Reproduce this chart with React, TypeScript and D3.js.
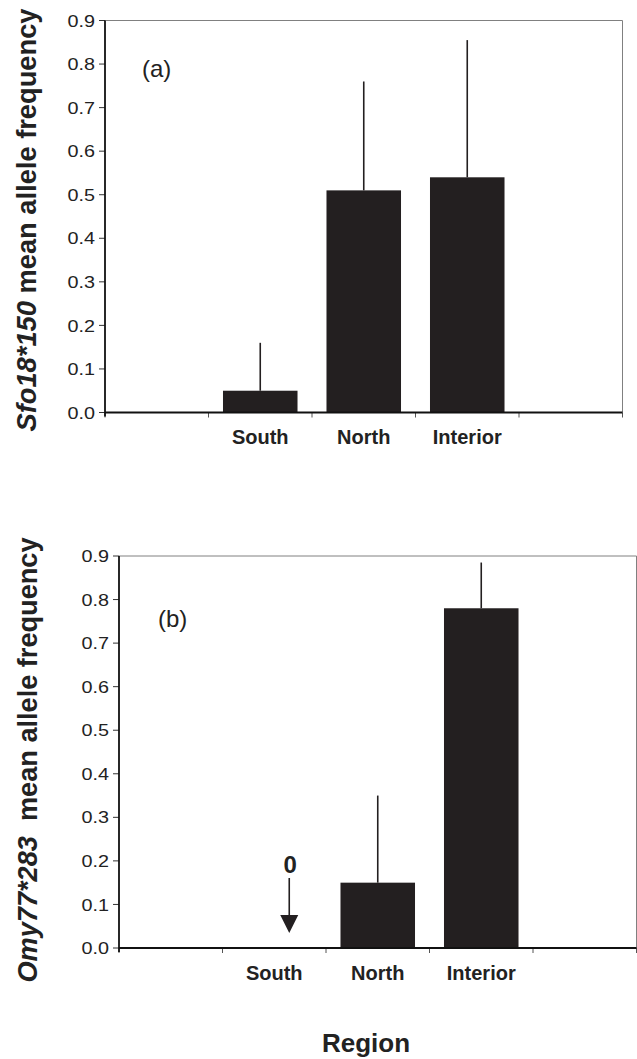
import React from "react";
import * as d3 from "d3";

const regions = ["South", "North", "Interior"];
const slots = ["_left", ...regions, "_right"];

const sfoMeans = [0.05, 0.51, 0.54];
const sfoErrors = [0.11, 0.25, 0.315];

const omyMeans = [0, 0.15, 0.78];
const omyErrors = [0, 0.2, 0.105];

const yTicks = [0, 0.1, 0.2, 0.3, 0.4, 0.5, 0.6, 0.7, 0.8, 0.9];

const W = 637;
const H = 1059;
const BAR = "#231f20";
const FONT = "'Liberation Sans', Arial, Helvetica, sans-serif";

type PanelProps = {
  left: number;
  right: number;
  top: number;
  bottom: number;
  means: number[];
  errors: number[];
  tag: string;
  tagX: number;
  tagY: number;
  italicPart: string;
  restPart: string;
  titleX: number;
  titleY: number;
  titleLen: number;
  zeroNote?: boolean;
};

function Panel(p: PanelProps) {
  const x = d3.scaleBand<string>().domain(slots).range([p.left, p.right]).padding(0);
  const y = d3.scaleLinear().domain([0, 0.9]).range([p.bottom, p.top]);
  const bw = x.bandwidth() * 0.72;
  const fmt = d3.format(".1f");
  const boundaries = slots.map((s) => x(s) as number).concat([p.right]);

  return (
    <g>
      <line x1={p.left} x2={p.right} y1={p.top} y2={p.top} stroke="#808080" strokeWidth={1} />
      <line x1={p.right} x2={p.right} y1={p.top} y2={p.bottom} stroke="#808080" strokeWidth={1} />

      {regions.map((r, i) => {
        const cx = (x(r) as number) + x.bandwidth() / 2;
        if (p.means[i] <= 0) return null;
        return (
          <g key={r}>
            <line
              x1={cx}
              x2={cx}
              y1={y(p.means[i])}
              y2={y(p.means[i] + p.errors[i])}
              stroke={BAR}
              strokeWidth={1.6}
            />
            <rect
              x={cx - bw / 2}
              y={y(p.means[i])}
              width={bw}
              height={y(0) - y(p.means[i])}
              fill={BAR}
            />
          </g>
        );
      })}

      {boundaries.map((b, i) => (
        <line key={i} x1={b} x2={b} y1={p.bottom} y2={p.bottom + 5} stroke="#555" strokeWidth={1} />
      ))}
      <line x1={p.left} x2={p.right} y1={p.bottom} y2={p.bottom} stroke="#111" strokeWidth={2} />
      {regions.map((r) => (
        <text
          key={r}
          x={(x(r) as number) + x.bandwidth() / 2}
          y={p.bottom + 31.5}
          textAnchor="middle"
          fontFamily={FONT}
          fontWeight="bold"
          fontSize={20}
          fill="#222"
        >
          {r}
        </text>
      ))}

      {yTicks.map((t) => (
        <g key={t}>
          <line x1={p.left - 6} x2={p.left} y1={y(t)} y2={y(t)} stroke="#333" strokeWidth={1} />
          <text
            x={p.left - 10}
            y={y(t)}
            dy="0.36em"
            textAnchor="end"
            fontFamily={FONT}
            fontSize={17}
            textLength={27.5}
            lengthAdjust="spacingAndGlyphs"
            fill="#222"
          >
            {fmt(t)}
          </text>
        </g>
      ))}
      <line x1={p.left} x2={p.left} y1={p.top} y2={p.bottom + 4} stroke="#111" strokeWidth={1.8} />

      <text x={p.tagX} y={p.tagY} fontFamily={FONT} fontSize={24} fill="#222">
        {p.tag}
      </text>

      <text
        transform={`translate(${p.titleX},${p.titleY}) rotate(-90)`}
        textAnchor="middle"
        fontFamily={FONT}
        fontWeight="bold"
        fontSize={27}
        fill="#222"
        textLength={p.titleLen}
        lengthAdjust="spacingAndGlyphs"
        style={{ whiteSpace: "pre" }}
      >
        <tspan fontStyle="italic">{p.italicPart}</tspan>
        <tspan>{p.restPart}</tspan>
      </text>

      {p.zeroNote && (() => {
        const cx = (x("South") as number) + x.bandwidth() / 2 + 15;
        const tipY = y(0) - 15;
        return (
          <g>
            <text
              x={cx + 1}
              y={tipY - 60}
              textAnchor="middle"
              fontFamily={FONT}
              fontWeight="bold"
              fontSize={24}
              fill="#222"
            >
              0
            </text>
            <line x1={cx} x2={cx} y1={tipY - 55} y2={tipY - 16} stroke={BAR} strokeWidth={1.6} />
            <path
              d={`M${cx - 9},${tipY - 18} L${cx + 9},${tipY - 18} L${cx},${tipY} Z`}
              fill={BAR}
            />
          </g>
        );
      })()}
    </g>
  );
}

export default function App() {
  return (
    <div style={{ position: "absolute", left: 0, top: 0 }}>
      <svg width={W} height={H} style={{ display: "block", background: "#fff" }}>
        <rect x={0} y={0} width={W} height={H} fill="#fff" />
        <Panel
          left={105}
          right={622.5}
          top={20.5}
          bottom={412.5}
          means={sfoMeans}
          errors={sfoErrors}
          tag="(a)"
          tagX={142}
          tagY={77}
          italicPart="Sfo18*150"
          restPart=" mean allele frequency"
          titleX={36}
          titleY={220}
          titleLen={423}
          zeroNote={false}
        />
        <Panel
          left={119}
          right={636.5}
          top={556}
          bottom={948}
          means={omyMeans}
          errors={omyErrors}
          tag="(b)"
          tagX={158}
          tagY={627}
          italicPart="Omy77*283"
          restPart="  mean allele frequency"
          titleX={37}
          titleY={760}
          titleLen={445}
          zeroNote={true}
        />
        <text
          x={366}
          y={1052}
          textAnchor="middle"
          fontFamily={FONT}
          fontWeight="bold"
          fontSize={26}
          fill="#222"
        >
          Region
        </text>
      </svg>
    </div>
  );
}
